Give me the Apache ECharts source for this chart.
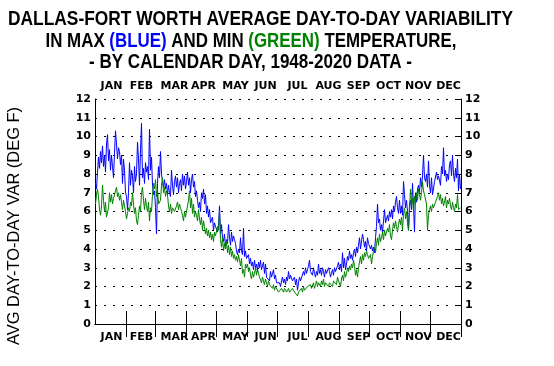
<!DOCTYPE html>
<html><head><meta charset="utf-8">
<script src="https://cdn.jsdelivr.net/npm/echarts@6/dist/echarts.min.js"></script>
<style>html,body{margin:0;padding:0;background:#fff}#c{width:554px;height:366px}</style>
</head><body><div id="c"></div>
<script>
const months = ['JAN','FEB','MAR','APR','MAY','JUN','JUL','AUG','SEP','OCT','NOV','DEC'];
const monthDays = [31,29,31,30,31,30,31,31,30,31,30,31];
const yMin = 0, yMax = 12, yStep = 1;

const maxBlue = [
// JAN
7.5,7.2,8.1,8.9,8.3,9.2,8.6,9.5,8.4,9.0,8.1,9.6,10.1,8.7,9.3,8.2,9.0,8.4,7.8,9.1,10.3,9.6,8.8,9.4,9.2,8.5,9.0,7.5,8.8,8.2,7.0,
// FEB
6.8,6.1,7.0,8.6,7.4,8.2,7.9,7.0,8.4,7.6,8.0,9.7,8.8,7.4,9.3,10.7,7.8,8.3,7.5,8.6,8.1,8.4,7.7,10.4,8.2,8.9,7.4,6.9,7.1,
// MAR
6.2,4.8,7.5,8.4,7.8,9.2,8.0,7.6,7.3,7.7,7.2,7.5,6.9,7.4,7.0,6.8,8.2,7.4,6.9,7.6,7.9,7.3,7.8,7.0,7.5,7.7,7.1,8.0,7.4,7.9,7.2,
// APR
7.6,8.1,7.4,7.8,7.0,7.7,8.0,7.3,7.6,6.8,7.1,6.6,6.2,6.5,6.0,7.0,6.7,7.2,6.4,6.9,5.9,6.3,5.7,6.1,5.4,5.3,5.7,5.0,5.4,5.2,
// MAY
5.1,4.9,5.2,6.3,4.8,5.3,4.6,4.4,4.8,4.1,4.5,4.3,5.3,4.6,4.2,4.9,4.4,4.7,4.5,4.3,3.9,3.7,4.0,3.8,4.6,3.9,3.7,5.1,3.6,3.9,3.5,
// JUN
3.4,3.7,3.2,3.5,3.1,3.3,2.9,3.4,3.0,3.2,2.8,3.3,3.0,3.4,2.9,3.1,3.3,2.7,3.2,2.5,2.4,2.6,2.3,2.8,2.5,2.7,2.9,2.4,2.6,2.2,
// JUL
2.3,2.1,2.2,2.0,2.3,2.5,2.2,2.4,2.1,2.5,2.3,2.8,2.4,2.6,2.7,2.3,2.2,2.5,2.1,2.4,1.8,2.2,2.5,2.3,2.4,2.2,2.8,2.6,3.0,2.7,2.9,
// AUG
3.1,3.4,2.8,2.9,2.6,3.0,2.7,2.5,2.8,2.6,3.2,2.7,2.9,2.6,3.0,2.8,2.5,2.9,2.7,2.6,3.0,2.8,2.5,2.7,2.9,2.6,3.0,2.8,2.7,3.1,3.3,
// SEP
2.9,3.2,2.8,3.8,3.0,3.5,2.9,3.2,3.6,3.4,3.9,3.5,3.7,3.4,3.8,4.0,3.6,4.1,3.8,4.2,4.6,4.0,3.9,4.8,4.5,4.1,4.4,3.9,4.6,4.3,
// OCT
4.4,4.0,4.2,3.9,4.1,3.8,4.6,5.2,6.4,5.4,5.6,5.0,5.3,4.9,5.5,6.1,5.4,5.5,5.8,5.5,6.0,5.7,6.1,5.6,6.3,6.0,6.5,6.8,6.2,5.9,6.6,
// NOV
5.9,6.3,5.8,7.6,6.9,6.2,6.6,6.0,5.0,6.4,6.6,6.1,7.5,6.3,4.9,7.0,6.5,7.2,7.4,7.0,7.8,7.3,7.9,9.0,7.8,7.6,8.0,7.3,8.7,7.4,
// DEC
7.0,7.8,6.9,7.2,7.6,7.5,8.1,7.7,7.9,8.0,7.4,8.4,8.0,9.4,7.9,8.2,7.6,8.0,7.7,8.5,8.7,7.9,9.0,8.0,7.6,8.3,7.8,8.8,7.1,8.0,7.2
];

const minGreen = [
// JAN
6.4,6.9,7.2,6.8,6.1,5.8,6.3,7.4,6.6,6.0,6.5,5.7,5.6,6.2,7.0,6.5,6.9,6.4,6.7,6.6,7.1,7.3,6.8,7.0,6.6,6.9,6.5,6.1,6.6,6.3,6.0,
// FEB
5.6,5.9,6.2,6.0,6.5,6.3,7.0,6.4,5.9,6.2,5.5,5.3,5.8,6.3,6.0,7.0,7.3,6.6,6.1,6.7,6.3,6.0,6.5,5.5,6.2,6.0,6.9,7.5,7.2,
// MAR
7.7,6.8,7.2,6.4,6.3,6.6,7.4,7.8,7.0,7.3,6.8,7.1,6.9,6.3,6.0,6.4,5.9,6.2,6.1,6.0,5.9,6.3,6.5,6.1,6.4,6.2,6.0,5.8,5.5,6.0,5.7,
// APR
5.8,6.3,6.6,7.1,6.2,6.7,5.9,6.4,5.7,6.0,5.8,5.5,6.1,5.6,5.3,5.7,5.0,5.5,5.2,4.8,5.1,4.7,5.0,4.6,4.9,4.5,4.8,4.4,4.9,4.7,
// MAY
4.8,5.2,5.0,6.0,4.5,4.1,4.6,3.9,4.3,4.0,4.4,3.8,4.2,3.7,4.1,3.6,3.9,3.5,3.7,3.4,3.6,3.3,3.7,3.4,3.1,3.5,2.7,2.9,2.5,3.2,3.0,
// JUN
3.2,2.8,3.0,2.6,2.4,2.8,2.5,2.7,3.0,2.6,2.9,2.7,2.5,2.4,2.2,2.5,2.3,2.1,2.4,2.2,2.0,2.3,2.1,2.2,2.0,1.9,2.1,1.8,2.0,1.9,
// JUL
1.9,1.7,1.8,1.6,1.9,1.8,1.7,1.9,1.8,1.7,1.8,1.9,1.7,1.8,1.6,1.9,1.8,1.7,1.6,1.8,1.5,1.7,1.6,1.8,1.9,1.7,2.0,1.8,1.9,1.7,2.0,
// AUG
1.9,2.0,2.1,1.9,2.0,2.2,1.9,2.1,2.3,2.0,2.2,2.1,2.0,2.3,2.1,2.4,2.0,2.2,2.3,2.1,2.0,2.2,2.3,2.1,2.0,2.3,2.2,2.4,2.1,2.5,2.3,
// SEP
2.2,2.0,2.4,2.6,2.3,2.8,2.5,2.7,3.0,2.8,3.1,2.9,3.2,3.0,3.4,3.1,2.6,2.9,2.5,3.0,3.3,3.6,3.2,3.7,3.4,3.8,3.6,3.9,3.7,3.5,
// OCT
3.4,3.7,3.2,3.6,3.9,4.1,3.8,4.3,4.6,4.2,4.8,4.4,4.6,4.9,4.5,5.0,4.7,4.8,5.1,4.9,5.3,4.7,4.5,5.0,5.4,5.1,5.5,5.2,4.9,5.3,5.6,
// NOV
5.3,5.7,5.0,5.9,6.2,5.6,6.0,5.4,5.0,6.1,7.2,6.3,6.7,6.0,6.8,6.4,7.0,6.6,7.2,6.9,6.6,7.0,7.6,7.1,6.9,6.8,6.4,5.0,5.8,6.1,
// DEC
6.3,6.0,6.4,6.2,6.1,6.5,6.4,6.8,7.0,6.6,6.9,6.4,6.7,6.3,6.5,6.8,6.2,6.6,6.4,6.7,6.3,6.1,6.5,6.2,6.0,6.4,6.2,6.9,6.1,6.0,6.2
];

// ---- layout helpers (label placement within each month, in days from month start) ----
const labelOffset = [16,15,19,17,19,18,20,20,19,19,18,18];

const days = maxBlue.map((v, i) => String(i + 1));
const monthStart = [];
let acc = 0;
monthDays.forEach(d => { monthStart.push(acc); acc += d; });
const labelAt = {};
monthStart.forEach((s, m) => { labelAt[s + labelOffset[m]] = months[m]; });
const isTick = i => monthStart.indexOf(i) > 0;

const LBL = {fontFamily: 'DejaVu Sans', fontWeight: 'bold', fontSize: 11, color: '#000'};

function fitScale(text, font, target) {
  const c = document.createElement('canvas').getContext('2d');
  c.font = font;
  return target / c.measureText(text).width;
}
const TF = 'bold 20px "Liberation Sans"';
const YF = '16px "Liberation Sans"';
const t1 = 'DALLAS-FORT WORTH AVERAGE DAY-TO-DAY VARIABILITY';
const t2 = 'IN MAX (BLUE) AND MIN (GREEN) TEMPERATURE,';
const t3 = '- BY CALENDAR DAY, 1948-2020 DATA -';
const yTitle = 'AVG DAY-TO-DAY VAR (DEG F)';

const chart = echarts.init(document.getElementById('c'), null, {renderer: 'canvas'});

function xAxisCfg(pos, margin) {
  return {
    type: 'category', data: days, boundaryGap: true, position: pos,
    axisLine: {show: true, lineStyle: {color: '#000', width: 1}},
    axisTick: {show: true, inside: true, length: 13, interval: (i) => isTick(i), lineStyle: {color: '#000', width: 1}},
    axisLabel: Object.assign({show: true, interval: (i) => labelAt[i] !== undefined, formatter: (v, i) => labelAt[i] || '', margin: margin}, LBL),
    splitLine: {show: false}
  };
}

chart.setOption({
  animation: false,
  backgroundColor: '#fff',
  grid: {left: 95, right: 93, top: 99, bottom: 42, containLabel: false},
  xAxis: [xAxisCfg('bottom', 8), xAxisCfg('top', 7)],
  yAxis: [
    {type: 'value', position: 'left', min: yMin, max: yMax, interval: yStep,
     axisLine: {show: true, lineStyle: {color: '#000', width: 1}},
     axisTick: {show: false},
     axisLabel: Object.assign({margin: 4}, LBL),
     splitLine: {show: true, lineStyle: {color: '#000', width: 1, type: [2, 7]}}},
    {type: 'value', position: 'right', min: yMin, max: yMax, interval: yStep,
     axisLine: {show: true, lineStyle: {color: '#000', width: 1}},
     axisTick: {show: true, inside: true, length: 6, lineStyle: {color: '#000'}},
     axisLabel: Object.assign({margin: 4}, LBL),
     splitLine: {show: false}}
  ],
  graphic: [
    {type: 'text', x: 260.5, y: 19.5, scaleX: fitScale(t1, TF, 505),
     style: {text: t1, font: TF, fill: '#000', align: 'center', verticalAlign: 'middle'}},
    {type: 'text', x: 251, y: 41, scaleX: fitScale(t2, TF, 411),
     style: {text: '{k|IN MAX }{b|(BLUE)}{k| AND MIN }{g|(GREEN)}{k| TEMPERATURE,}', font: TF, align: 'center', verticalAlign: 'middle',
       rich: {k: {font: TF, fill: '#000'}, b: {font: TF, fill: '#0000ff'}, g: {font: TF, fill: '#008000'}}}},
    {type: 'text', x: 250.5, y: 62.5, scaleX: fitScale(t3, TF, 323),
     style: {text: t3, font: TF, fill: '#000', align: 'center', verticalAlign: 'middle'}},
    {type: 'text', x: 15, y: 226, rotation: Math.PI / 2, scaleX: fitScale(yTitle, YF, 238),
     style: {text: yTitle, font: YF, fill: '#000', align: 'center', verticalAlign: 'middle'}}
  ],
  series: [
    {name: 'MAX', type: 'line', data: maxBlue, xAxisIndex: 0, yAxisIndex: 0, showSymbol: false, symbol: 'none',
     lineStyle: {color: '#0000ff', width: 1}, itemStyle: {color: '#0000ff'}, z: 3},
    {name: 'MIN', type: 'line', data: minGreen, xAxisIndex: 0, yAxisIndex: 0, showSymbol: false, symbol: 'none',
     lineStyle: {color: '#008000', width: 1}, itemStyle: {color: '#008000'}, z: 4}
  ]
});
</script>
</body></html>
